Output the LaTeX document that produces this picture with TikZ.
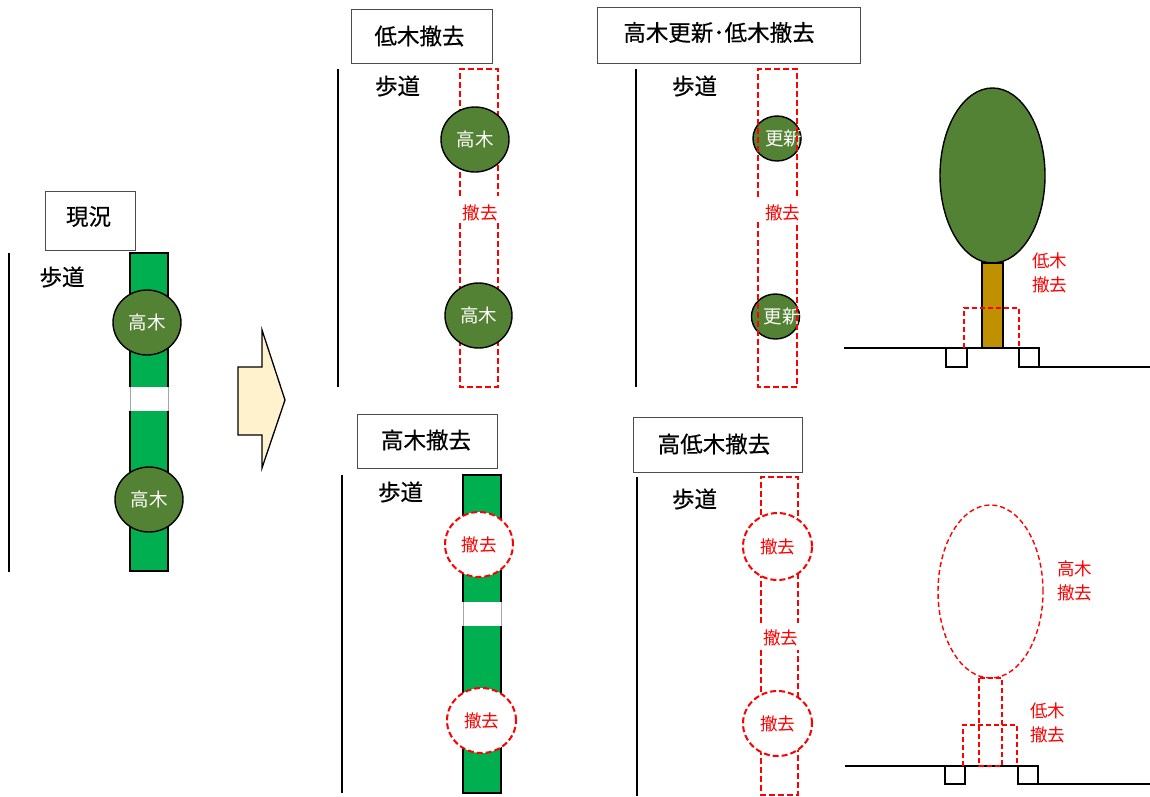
\documentclass[tikz,border=0pt]{standalone}
\usepackage{fontspec}
\usetikzlibrary{shapes.geometric}
\newfontfamily\jp{Noto Sans CJK JP}
\newfontfamily\jpm{Noto Sans CJK JP}[FakeBold=0.5]
\definecolor{strip}{HTML}{00B050}
\definecolor{crown}{HTML}{548235}
\definecolor{trunkc}{HTML}{BF9000}
\definecolor{arrowfill}{HTML}{FFF2CC}
\begin{document}
\begin{tikzpicture}[x=1pt,y=-1pt,
  boxttl/.style={draw=black!70, line width=0.9pt, fill=white, inner sep=0pt},
  ttl/.style={font=\jpm\fontsize{22.5}{22.5}\selectfont, text=black, inner sep=0pt},
  walk/.style={font=\jpm\fontsize{22.5}{22.5}\selectfont, inner sep=0pt},
  curb/.style={line width=1.8pt},
  tree/.style={ellipse, draw=black, line width=1.4pt, fill=crown, text=white,
    font=\jp\fontsize{18.5}{18.5}\selectfont, inner sep=0pt},
  gone/.style={ellipse, draw=red, line width=2pt, dash pattern=on 6pt off 3pt,
    fill=white, text=red, font=\jp\fontsize{17.5}{17.5}\selectfont, inner sep=0pt},
  cut/.style={draw=red, line width=2pt, dash pattern=on 6pt off 3pt},
  thincut/.style={draw=red, line width=1.4pt, dash pattern=on 5pt off 3pt},
  redlbl/.style={text=red, font=\jp\fontsize{17.5}{17.5}\selectfont, inner sep=0pt},
  twoline/.style={redlbl, align=center, font=\jp\fontsize{17.5}{24}\selectfont},
  stripe/.style={draw=black, line width=1.3pt, fill=strip},
  ground/.style={draw=black, line width=1.5pt},
]
\useasboundingbox (0,0) rectangle (1150,796);

% ---------- current state ----------
\node[boxttl, minimum width=90pt, minimum height=59pt] (t1) at (90,220.5) {};
\node[ttl] (t1txt) at (88.5,216.5) {現況};
\draw[curb] (9,253) -- (9,572);
\node[walk] (w1) at (62,277) {歩道};
\draw[stripe] (130,253) rectangle (168,571);
\fill[white] (129.3,387) rectangle (168.7,411);
\draw[black!35, line width=0.5pt] (130,387) -- (130,411) (168,387) -- (168,411);
\node[tree, minimum width=68pt, minimum height=65pt] (a1) at (147,322.5) {高木};
\node[tree, minimum width=68pt, minimum height=65pt] (a2) at (149,499.5) {高木};

% transition arrow
\draw[fill=arrowfill, line width=1.3pt, line join=miter]
  (238,367) -- (262,367) -- (262,330) -- (285,400) -- (262,468) -- (262,435) -- (238,435) -- cycle;

% ---------- remove shrubs ----------
\node[boxttl, minimum width=141pt, minimum height=54pt] (t2) at (421.5,36) {};
\node[ttl] (t2txt) at (419.5,36) {低木撤去};
\draw[curb] (338,69) -- (338,387);
\node[walk] (w2) at (397.5,86) {歩道};
\draw[cut] (460,196) -- (460,69) -- (498,69) -- (498,196);
\draw[cut] (460,223) -- (460,387) -- (498,387) -- (498,223);
\node[redlbl] (r2) at (480,212.5) {撤去};
\node[tree, minimum width=68pt, minimum height=65pt] (b1) at (475,139.5) {高木};
\node[tree, minimum width=67pt, minimum height=65pt] (b2) at (478.5,315.5) {高木};

% ---------- renew tall trees, remove shrubs ----------
\node[boxttl, minimum width=263pt, minimum height=56pt] (t3) at (728.5,35) {};
\node[ttl] (t3txt) at (719,32.5) {高木更新･低木撤去};
\draw[curb] (636,69) -- (636,387);
\node[walk] (w3) at (694.5,86) {歩道};
\node[tree, minimum width=48pt, minimum height=45pt, text width=34pt, align=center] (c1) at (777,138.5) {\hspace*{5pt}更新};
\node[tree, minimum width=47pt, minimum height=45pt, text width=34pt, align=center] (c2) at (775.5,316.5) {\hspace*{5pt}更新};
\draw[cut] (758,197) -- (758,69) -- (797,69) -- (797,197);
\draw[cut] (758,222) -- (758,387) -- (797,387) -- (797,222);
\node[redlbl] (r3) at (782.5,212.5) {撤去};

% ---------- section: tree with shrub removal ----------
\node[ellipse, draw=black, line width=1.4pt, fill=crown, minimum width=105pt, minimum height=175pt] (crown1) at (992.5,175.5) {};
\draw[draw=black, line width=1.4pt, fill=trunkc] (982,263) rectangle (1003,348);
\draw[ground] (844,348) -- (1039,348);
\draw[ground] (1039,367) -- (1150,367);
\draw[black, line width=1.2pt] (946,348) rectangle (967,367);
\draw[black, line width=1.2pt] (1019,348) rectangle (1039,367);
\draw[thincut] (964,348) -- (964,308) -- (1019,308) -- (1019,348);
\node[twoline] (r4) at (1049.5,273) {低木\\撤去};

% ---------- remove tall trees ----------
\node[boxttl, minimum width=140pt, minimum height=54pt] (t5) at (427,441) {};
\node[ttl] (t5txt) at (426,440) {高木撤去};
\draw[curb] (342,475) -- (342,793);
\node[walk] (w5) at (400.5,492) {歩道};
\draw[stripe] (463,475) rectangle (501,793);
\fill[white] (462.3,602) rectangle (501.7,626);
\draw[black!35, line width=0.5pt] (463,602) -- (463,626) (501,602) -- (501,626);
\node[gone, minimum width=68pt, minimum height=65pt] (e1) at (479,544.5) {撤去};
\node[gone, minimum width=69pt, minimum height=65pt] (e2) at (481.5,720.5) {撤去};

% ---------- remove tall trees and shrubs ----------
\node[boxttl, minimum width=169pt, minimum height=55pt] (t6) at (717.5,444.5) {};
\node[ttl] (t6txt) at (714,444) {高低木撤去};
\draw[curb] (637,477) -- (637,796);
\node[walk] (w6) at (694.5,499) {歩道};
\draw[cut] (761,623) -- (761,477) -- (798,477) -- (798,623);
\draw[cut] (761,650) -- (761,795) -- (798,795) -- (798,650);
\node[redlbl] (r6) at (780.5,638) {撤去};
\node[gone, minimum width=69pt, minimum height=67pt] (f1) at (777.5,546.5) {撤去};
\node[gone, minimum width=69pt, minimum height=65pt] (f2) at (777.5,723.5) {撤去};

% ---------- section: tree and shrubs removed ----------
\node[ellipse, thincut, minimum width=105pt, minimum height=173pt] (crown2) at (990.5,591.5) {};
\draw[ground] (845,766) -- (1038,766);
\draw[ground] (1038,784) -- (1150,784);
\draw[black, line width=1.2pt] (945,766) rectangle (965,784);
\draw[black, line width=1.2pt] (1018,766) rectangle (1038,784);
\draw[thincut] (979,678) rectangle (1002,766);
\draw[thincut] (963,766) -- (963,725) -- (1017,725) -- (1017,766);
\node[twoline] (r7a) at (1074.5,580.5) {高木\\撤去};
\node[twoline] (r7b) at (1047.5,723) {低木\\撤去};
\end{tikzpicture}
\end{document}
